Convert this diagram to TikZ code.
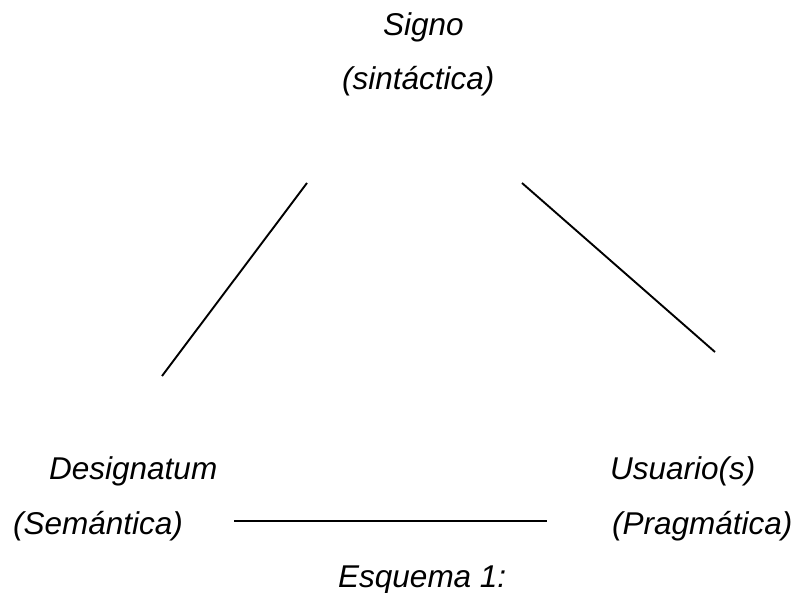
\documentclass[tikz,border=0pt]{standalone}
\usepackage{fontspec}
\setmainfont{Liberation Sans}
\begin{document}
\begin{tikzpicture}[x=1pt,y=-1pt,
  lbl/.style={anchor=base west,inner sep=0pt,font=\fontsize{31.5}{36}\selectfont\itshape},
  edge/.style={line width=1.9pt,black}]
\useasboundingbox (0,0) rectangle (796,593);
\node[lbl] (signo) at (383,36) {Signo};
\node[lbl] (sint) at (342,90) {(sintáctica)};
\node[lbl] (desig) at (49,480) {Designatum};
\node[lbl] (sem) at (13,535) {(Semántica)};
\node[lbl] (usu) at (610,480) {Usuario(s)};
\node[lbl] (prag) at (612,535) {(Pragmática)};
\node[lbl] (esq) at (338,587) {Esquema 1:};
\coordinate (a1) at (307,183);
\coordinate (a2) at (162,376);
\coordinate (b1) at (522,183);
\coordinate (b2) at (715,352);
\coordinate (c1) at (234,521);
\coordinate (c2) at (547,521);
\draw[edge] (a1) -- (a2);
\draw[edge] (b1) -- (b2);
\draw[edge] (c1) -- (c2);
\end{tikzpicture}
\end{document}
